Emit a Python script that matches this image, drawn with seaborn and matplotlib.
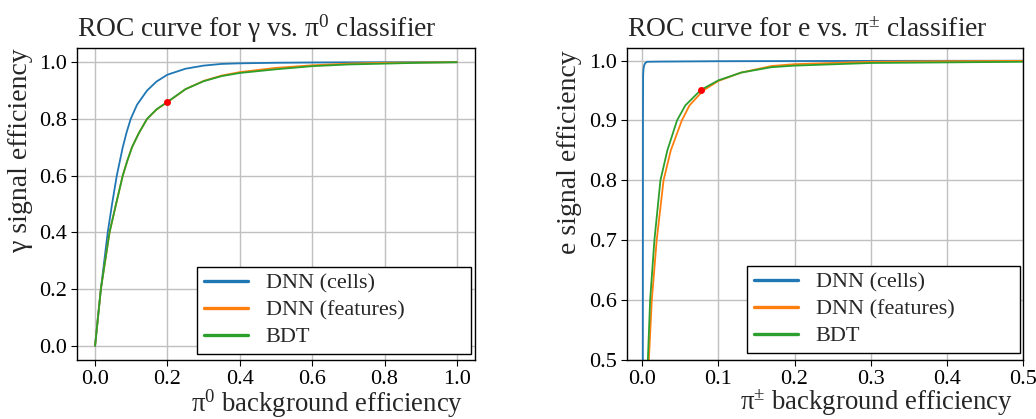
import matplotlib
matplotlib.use("Agg")
import matplotlib.pyplot as plt
import seaborn as sns
import pandas as pd

# ---------------- data ----------------
# Left panel: gamma vs pi0
g_cells_x = [0, 0.016, 0.035, 0.047, 0.060, 0.0765, 0.087, 0.0985, 0.116, 0.1436, 0.17, 0.2, 0.25, 0.3, 0.35, 0.4, 0.5, 0.6, 0.8, 1.0]
g_cells_y = [0, 0.2, 0.4, 0.5, 0.6, 0.7, 0.752, 0.8, 0.85, 0.9, 0.932, 0.956, 0.977, 0.988, 0.994, 0.996, 0.998, 0.999, 1.0, 1.0]
g_feat_x = [0, 0.016, 0.040, 0.058, 0.0765, 0.089, 0.102, 0.121, 0.1436, 0.17, 0.2, 0.25, 0.3, 0.35, 0.4, 0.5, 0.6, 0.7, 0.8, 0.9, 1.0]
g_feat_y = [0, 0.2, 0.4, 0.5, 0.6, 0.652, 0.7, 0.75, 0.8, 0.833, 0.859, 0.905, 0.934, 0.953, 0.965, 0.98, 0.989, 0.995, 0.998, 0.999, 1.0]
g_bdt_x = [0, 0.016, 0.040, 0.058, 0.0765, 0.089, 0.102, 0.121, 0.1436, 0.17, 0.2, 0.25, 0.3, 0.35, 0.4, 0.5, 0.6, 0.7, 0.8, 0.9, 1.0]
g_bdt_y = [0, 0.2, 0.4, 0.5, 0.6, 0.652, 0.7, 0.75, 0.8, 0.834, 0.86, 0.905, 0.933, 0.951, 0.962, 0.975, 0.986, 0.992, 0.995, 0.998, 1.0]
g_wp = (0.2, 0.86)

# Right panel: e vs pi+-
e_cells_x = [0, 0.0008, 0.0010, 0.0012, 0.0016, 0.0025, 0.004, 0.0065, 0.02, 0.1, 0.3, 0.5, 1.0]
e_cells_y = [0, 0.5, 0.9, 0.975, 0.985, 0.992, 0.996, 0.998, 0.9983, 0.999, 0.9995, 0.9998, 1.0]
e_feat_x = [0, 0.003, 0.0087, 0.0126, 0.019, 0.028, 0.0375, 0.052, 0.062, 0.080, 0.1, 0.13, 0.17, 0.2, 0.3, 0.4, 0.5, 1.0]
e_feat_y = [0, 0.2, 0.5, 0.6, 0.7, 0.8, 0.85, 0.9, 0.925, 0.95, 0.966, 0.98, 0.991, 0.994, 0.998, 0.999, 0.9995, 1.0]
e_bdt_x = [0, 0.002, 0.0074, 0.0104, 0.016, 0.0239, 0.033, 0.0457, 0.0565, 0.077, 0.1, 0.13, 0.17, 0.2, 0.3, 0.4, 0.5, 1.0]
e_bdt_y = [0, 0.2, 0.5, 0.6, 0.7, 0.8, 0.85, 0.9, 0.925, 0.951, 0.967, 0.98, 0.989, 0.9916, 0.996, 0.997, 0.998, 1.0]
e_wp = (0.077, 0.951)

labels = ["DNN (cells)", "DNN (features)", "BDT"]
colors = ["#1f77b4", "#ff7f0e", "#2ca02c"]

left_xticks = [0.0, 0.2, 0.4, 0.6, 0.8, 1.0]
left_yticks = [0.0, 0.2, 0.4, 0.6, 0.8, 1.0]
right_xticks = [0.0, 0.1, 0.2, 0.3, 0.4, 0.5]
right_yticks = [0.5, 0.6, 0.7, 0.8, 0.9, 1.0]

# ---------------- style ----------------
sns.set_style("ticks")
plt.rcParams["font.family"] = ["Liberation Serif", "DejaVu Serif"]
plt.rcParams["mathtext.fontset"] = "custom"
plt.rcParams["mathtext.rm"] = "Liberation Serif"
plt.rcParams["mathtext.it"] = "Liberation Serif:italic"
plt.rcParams["mathtext.default"] = "regular"
plt.rcParams["axes.edgecolor"] = "black"
plt.rcParams["xtick.color"] = "black"
plt.rcParams["ytick.color"] = "black"
plt.rcParams["xtick.direction"] = "out"
plt.rcParams["ytick.direction"] = "out"

fig = plt.figure(figsize=(10.36, 4.19), dpi=100)
axL = fig.add_axes([0.0743, 0.1408, 0.3842, 0.7446])
axR = fig.add_axes([0.6052, 0.1408, 0.3822, 0.7446])

def panel(ax, series, wp, xlim, ylim, xticks, yticks, title, xlabel, ylabel,
          xl_x, yl_x, yl_y, leg_box):
    for (xs, ys), lab, col in zip(series, labels, colors):
        df = pd.DataFrame({"x": xs, "y": ys})
        sns.lineplot(data=df, x="x", y="y", ax=ax, sort=False, estimator=None,
                     color=col, lw=1.3, label=lab)
    ax.plot([wp[0]], [wp[1]], "o", color="red", ms=4, zorder=5)
    ax.set_xlim(*xlim)
    ax.set_ylim(*ylim)
    ax.set_xticks(xticks)
    ax.set_yticks(yticks)
    ax.set_xticklabels([f"{t:.1f}" for t in xticks])
    ax.set_yticklabels([f"{t:.1f}" for t in yticks])
    ax.tick_params(labelsize=16, length=4, width=0.8)
    ax.grid(True, color="#c0c0c0", lw=1.0)
    for s in ax.spines.values():
        s.set_visible(True)
        s.set_linewidth(1.0)
        s.set_color("black")
    ax.set_title(title, loc="left", fontsize=19.8, pad=8)
    ax.set_xlabel(xlabel, fontsize=19.3, ha="right", va="top")
    ax.xaxis.set_label_coords(xl_x, -0.088)
    ax.set_ylabel(ylabel, fontsize=20, loc="top")
    ax.yaxis.set_label_coords(yl_x, yl_y)
    leg = ax.legend(loc="lower left", bbox_to_anchor=leg_box, mode="expand",
                    fontsize=16, frameon=True, fancybox=False, labelspacing=0.28,
                    borderpad=0.3, edgecolor="black", framealpha=1.0, borderaxespad=0.0)
    leg.get_frame().set_linewidth(1.0)
    for ln in leg.get_lines():
        ln.set_linewidth(2.4)

panel(axL, [(g_cells_x, g_cells_y), (g_feat_x, g_feat_y), (g_bdt_x, g_bdt_y)], g_wp,
      (-0.05, 1.05), (-0.05, 1.05), left_xticks, left_yticks,
      "ROC curve for γ vs. π$^{0}$ classifier", "π$^{0}$ background efficiency",
      "γ signal efficiency", 0.97, -0.11, 1.0, (0.3015, 0.0192, 0.688, 0.282))
panel(axR, [(e_cells_x, e_cells_y), (e_feat_x, e_feat_y), (e_bdt_x, e_bdt_y)], e_wp,
      (-0.02, 0.5), (0.5, 1.021), right_xticks, right_yticks,
      "ROC curve for e vs. π$^{\\pm}$ classifier", "π$^{\\pm}$ background efficiency",
      "e signal efficiency", 0.975, -0.114, 0.994, (0.303, 0.0224, 0.689, 0.282))

fig.savefig("out.png", dpi=100)
